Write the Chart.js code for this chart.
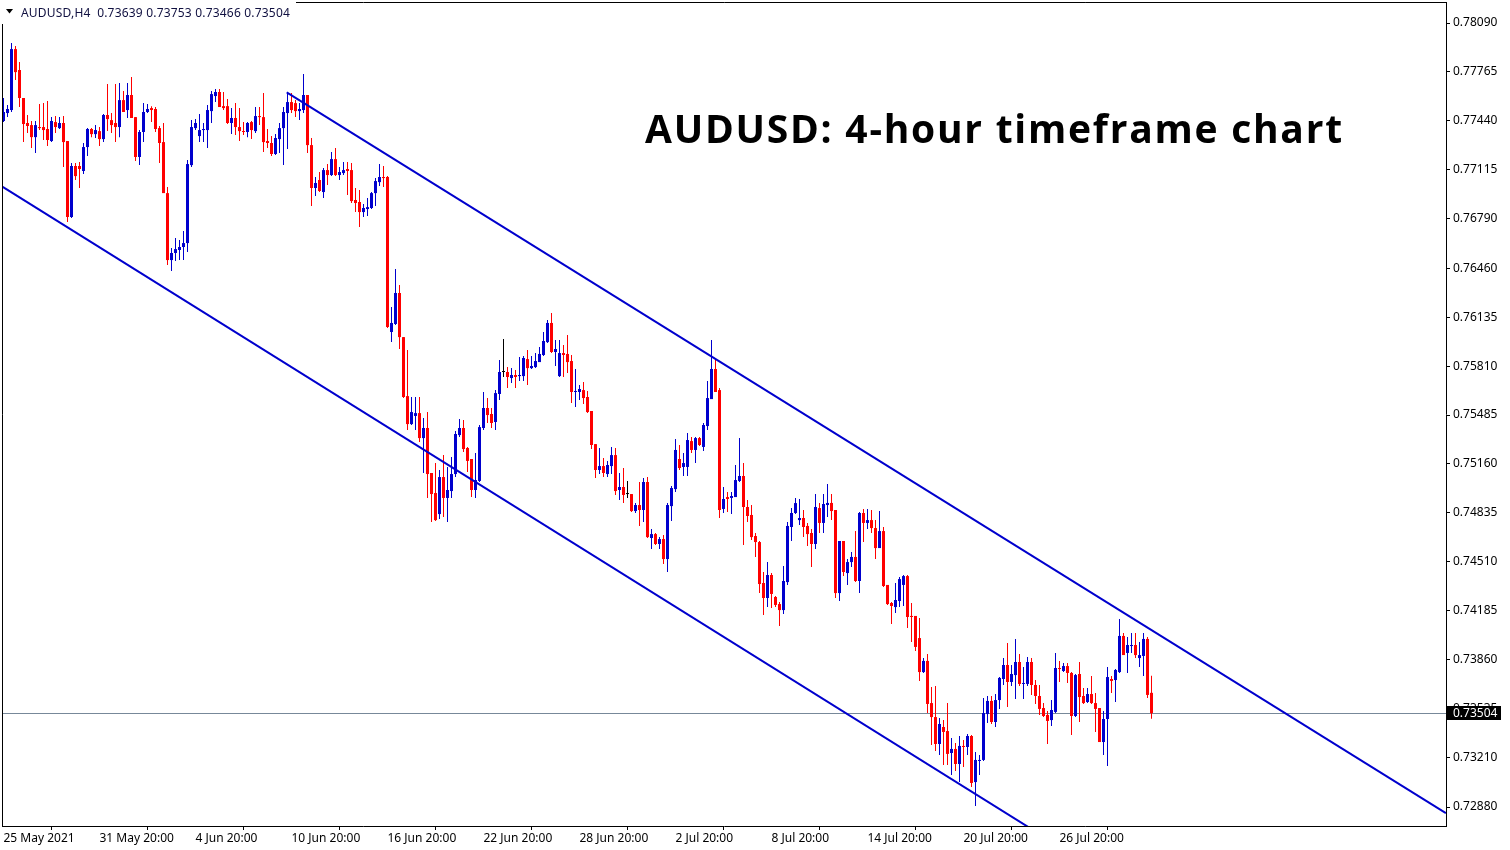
<!DOCTYPE html>
<html><head><meta charset="utf-8">
<script src="https://cdn.jsdelivr.net/npm/chart.js@4.4.1/dist/chart.umd.min.js"></script>
<style>html,body{margin:0;padding:0;background:#fff;overflow:hidden}#wrap{position:relative;width:1510px;height:850px}canvas{display:block}</style>
</head><body><div id="wrap"><canvas id="c" width="1510" height="850"></canvas></div>
<script>
const symbolText = "AUDUSD,H4";
const titleText = "AUDUSD: 4-hour timeframe chart";

const opens = [
0.77439,0.77492,0.77512,0.77917,0.77778,0.77592,0.77426,0.77412,0.77332,0.77399,
0.77399,0.77386,0.77306,0.77432,0.77392,0.77426,0.77306,0.76801,0.77140,0.77140,
0.77107,0.77266,0.77386,0.77352,0.77372,0.77319,0.77479,0.77445,0.77426,0.77399,
0.77578,0.77512,0.77612,0.77465,0.77200,0.77366,0.77499,0.77525,0.77519,0.77392,
0.77299,0.76960,0.76515,0.76562,0.76582,0.76602,0.76628,0.77146,0.77392,0.77339,
0.77379,0.77379,0.77505,0.77605,0.77632,0.77538,0.77538,0.77426,0.77459,0.77399,
0.77372,0.77366,0.77432,0.77372,0.77472,0.77465,0.77306,0.77293,0.77220,0.77319,
0.77392,0.77492,0.77565,0.77558,0.77505,0.77512,0.77612,0.77279,0.76994,0.77047,
0.76967,0.77113,0.77080,0.77186,0.77080,0.77093,0.77120,0.77113,0.76914,0.76901,
0.76834,0.76854,0.76861,0.76960,0.77033,0.77067,0.77067,0.76037,0.76090,0.76296,
0.76003,0.75611,0.75425,0.75479,0.75498,0.75332,0.75399,0.75100,0.74967,0.74827,
0.75073,0.74934,0.74980,0.75093,0.75352,0.75399,0.75266,0.75193,0.74987,0.75047,
0.75399,0.75532,0.75492,0.75439,0.75625,0.75771,0.75771,0.75731,0.75751,0.75744,
0.75744,0.75857,0.75797,0.75804,0.75837,0.75884,0.75970,0.76097,0.75904,0.75744,
0.75897,0.75891,0.75844,0.75638,0.75638,0.75651,0.75605,0.75512,0.75292,0.75120,
0.75146,0.75093,0.75146,0.75219,0.74987,0.75007,0.74960,0.74960,0.74847,0.74887,
0.74854,0.75040,0.74668,0.74694,0.74628,0.74661,0.74528,0.74880,0.74993,0.75193,
0.75140,0.75140,0.75312,0.75253,0.75332,0.75273,0.75412,0.75591,0.75791,0.75651,
0.74861,0.74940,0.74934,0.74940,0.75047,0.75080,0.74874,0.74821,0.74681,0.74641,
0.74369,0.74269,0.74422,0.74276,0.74229,0.74189,0.74375,0.74741,0.74834,0.74787,
0.74801,0.74748,0.74701,0.74628,0.74867,0.74768,0.74887,0.74901,0.74854,0.74302,
0.74648,0.74435,0.74508,0.74542,0.74382,0.74834,0.74768,0.74787,0.74734,0.74601,
0.74714,0.74356,0.74236,0.74209,0.74249,0.74356,0.74415,0.74150,0.74150,0.74003,
0.73777,0.73851,0.73571,0.73478,0.73299,0.73412,0.73385,0.73239,0.73266,0.73166,
0.73286,0.73279,0.73352,0.73046,0.73186,0.73193,0.73498,0.73585,0.73445,0.73591,
0.73731,0.73824,0.73711,0.73757,0.73844,0.73698,0.73698,0.73844,0.73691,0.73618,
0.73538,0.73492,0.73458,0.73512,0.73804,0.73784,0.73817,0.73771,0.73485,0.73764,
0.73618,0.73578,0.73631,0.73571,0.73538,0.73312,0.73465,0.73731,0.73724,0.73777,
0.74017,0.73904,0.73950,0.73957,0.73870,0.73884,0.73997,0.73639];

const highs = [
0.77592,0.77545,0.77957,0.77937,0.77831,0.77592,0.77479,0.77439,0.77439,0.77552,
0.77558,0.77572,0.77465,0.77472,0.77465,0.77472,0.77306,0.77160,0.77160,0.77166,
0.77293,0.77392,0.77392,0.77412,0.77399,0.77485,0.77685,0.77492,0.77685,0.77691,
0.77638,0.77691,0.77731,0.77465,0.77379,0.77558,0.77552,0.77538,0.77532,0.77406,
0.77426,0.77000,0.76595,0.76661,0.76648,0.76708,0.77180,0.77445,0.77452,0.77485,
0.77426,0.77545,0.77638,0.77651,0.77651,0.77632,0.77585,0.77525,0.77558,0.77525,
0.77432,0.77432,0.77439,0.77532,0.77532,0.77625,0.77386,0.77339,0.77352,0.77426,
0.77532,0.77632,0.77625,0.77578,0.77558,0.77751,0.77612,0.77326,0.77067,0.77100,
0.77126,0.77153,0.77233,0.77259,0.77133,0.77166,0.77166,0.77160,0.76994,0.76980,
0.76887,0.76927,0.76967,0.77060,0.77153,0.77140,0.77073,0.76203,0.76455,0.76349,
0.76003,0.75917,0.75605,0.75605,0.75605,0.75465,0.75505,0.75100,0.75166,0.75120,
0.75219,0.75140,0.75206,0.75379,0.75459,0.75452,0.75273,0.75193,0.75233,0.75419,
0.75638,0.75598,0.75532,0.75651,0.75851,0.75990,0.75804,0.75797,0.75784,0.75871,
0.75877,0.75917,0.75877,0.75897,0.75937,0.76037,0.76116,0.76163,0.75984,0.75984,
0.75950,0.76017,0.75884,0.75791,0.75685,0.75704,0.75645,0.75512,0.75292,0.75266,
0.75199,0.75180,0.75273,0.75266,0.75100,0.75133,0.75047,0.74960,0.74901,0.75040,
0.75067,0.75073,0.74728,0.74701,0.74674,0.74688,0.74900,0.75013,0.75326,0.75286,
0.75233,0.75366,0.75339,0.75339,0.75339,0.75432,0.75711,0.75984,0.75851,0.75665,
0.75007,0.74974,0.74974,0.75153,0.75332,0.75166,0.74920,0.74887,0.74701,0.74648,
0.74442,0.74508,0.74435,0.74282,0.74243,0.74482,0.74774,0.74867,0.74934,0.74927,
0.74854,0.74768,0.74728,0.74960,0.74900,0.74960,0.75027,0.74960,0.74854,0.74648,
0.74648,0.74528,0.74575,0.74714,0.74841,0.74861,0.74861,0.74854,0.74787,0.74847,
0.74741,0.74356,0.74243,0.74369,0.74409,0.74422,0.74422,0.74236,0.74150,0.74136,
0.73870,0.73897,0.73678,0.73684,0.73472,0.73458,0.73571,0.73339,0.73306,0.73352,
0.73326,0.73365,0.73359,0.73246,0.73226,0.73605,0.73618,0.73618,0.73631,0.73744,
0.73870,0.73970,0.73824,0.73997,0.73897,0.73811,0.73877,0.73870,0.73724,0.73691,
0.73571,0.73518,0.73591,0.73904,0.73851,0.73837,0.73837,0.73777,0.73764,0.73844,
0.73671,0.73671,0.73751,0.73638,0.73538,0.73518,0.73811,0.73751,0.73797,0.74130,
0.74037,0.74010,0.74037,0.74037,0.73977,0.74037,0.74010,0.73753];

const lows = [
0.77432,0.77465,0.77499,0.77711,0.77532,0.77299,0.77359,0.77259,0.77226,0.77379,
0.77313,0.77273,0.77299,0.77359,0.77386,0.77133,0.76768,0.76794,0.77047,0.76994,
0.77087,0.77206,0.77332,0.77326,0.77273,0.77299,0.77372,0.77359,0.77299,0.77332,
0.77499,0.77459,0.77459,0.77173,0.77146,0.77299,0.77492,0.77432,0.77366,0.77160,
0.76960,0.76482,0.76442,0.76509,0.76515,0.76515,0.76568,0.77133,0.77379,0.77299,
0.77299,0.77259,0.77426,0.77565,0.77532,0.77512,0.77419,0.77352,0.77346,0.77306,
0.77346,0.77332,0.77319,0.77359,0.77412,0.77233,0.77259,0.77206,0.77213,0.77226,
0.77146,0.77253,0.77492,0.77465,0.77445,0.77492,0.77226,0.76874,0.76940,0.76967,
0.76927,0.77014,0.77073,0.77073,0.77047,0.77080,0.76947,0.76894,0.76834,0.76734,
0.76801,0.76808,0.76854,0.76874,0.77007,0.77000,0.76063,0.75970,0.76083,0.75924,
0.75598,0.75385,0.75419,0.75385,0.75306,0.75100,0.74934,0.74774,0.74781,0.74794,
0.74807,0.74774,0.74934,0.75073,0.75339,0.75239,0.75106,0.74940,0.74934,0.75040,
0.75385,0.75432,0.75399,0.75385,0.75585,0.75738,0.75665,0.75698,0.75665,0.75711,
0.75711,0.75685,0.75791,0.75797,0.75837,0.75877,0.75964,0.75897,0.75811,0.75738,
0.75738,0.75764,0.75565,0.75538,0.75585,0.75558,0.75498,0.75259,0.75067,0.75093,
0.75073,0.75073,0.75093,0.74954,0.74920,0.74901,0.74934,0.74841,0.74834,0.74748,
0.74774,0.74668,0.74595,0.74621,0.74595,0.74495,0.74442,0.74781,0.74974,0.75120,
0.75080,0.75080,0.75233,0.75166,0.75279,0.75246,0.75385,0.75591,0.75638,0.74801,
0.74834,0.74841,0.74827,0.74940,0.75040,0.74621,0.74774,0.74655,0.74542,0.74302,
0.74156,0.74209,0.74203,0.74209,0.74083,0.74163,0.74356,0.74648,0.74827,0.74754,
0.74674,0.74615,0.74475,0.74595,0.74701,0.74701,0.74807,0.74787,0.74269,0.74249,
0.74415,0.74356,0.74475,0.74375,0.74302,0.74641,0.74728,0.74701,0.74528,0.74601,
0.74342,0.74223,0.74096,0.74169,0.74209,0.74216,0.74070,0.73977,0.73917,0.73718,
0.73771,0.73505,0.73292,0.73252,0.73226,0.73159,0.73159,0.73093,0.73120,0.73046,
0.73146,0.73226,0.73013,0.72887,0.73093,0.73186,0.73439,0.73432,0.73412,0.73532,
0.73691,0.73545,0.73684,0.73598,0.73684,0.73598,0.73684,0.73625,0.73565,0.73492,
0.73478,0.73299,0.73419,0.73505,0.73711,0.73777,0.73704,0.73359,0.73478,0.73445,
0.73565,0.73571,0.73565,0.73379,0.73312,0.73226,0.73153,0.73638,0.73578,0.73771,
0.73890,0.73771,0.73904,0.73870,0.73811,0.73751,0.73605,0.73466];

const closes = [
0.77499,0.77519,0.77917,0.77764,0.77592,0.77419,0.77406,0.77332,0.77412,0.77392,
0.77379,0.77313,0.77439,0.77399,0.77426,0.77299,0.76801,0.77140,0.77073,0.77120,
0.77266,0.77386,0.77352,0.77379,0.77319,0.77479,0.77452,0.77412,0.77399,0.77578,
0.77499,0.77612,0.77459,0.77200,0.77366,0.77499,0.77519,0.77512,0.77386,0.77293,
0.76960,0.76515,0.76562,0.76588,0.76602,0.76628,0.77153,0.77399,0.77426,0.77379,
0.77386,0.77512,0.77618,0.77632,0.77532,0.77525,0.77426,0.77459,0.77399,0.77372,
0.77366,0.77426,0.77379,0.77472,0.77465,0.77299,0.77293,0.77220,0.77326,0.77392,
0.77499,0.77565,0.77512,0.77505,0.77519,0.77612,0.77279,0.76994,0.77027,0.76974,
0.77113,0.77080,0.77186,0.77080,0.77100,0.77113,0.77107,0.76907,0.76894,0.76834,
0.76861,0.76867,0.76960,0.77040,0.77067,0.77060,0.76070,0.76097,0.76296,0.76003,
0.75605,0.75425,0.75505,0.75498,0.75332,0.75399,0.75093,0.74960,0.74787,0.75073,
0.74934,0.74987,0.75093,0.75359,0.75399,0.75259,0.75180,0.74987,0.75053,0.75405,
0.75532,0.75485,0.75432,0.75631,0.75771,0.75771,0.75738,0.75751,0.75738,0.75751,
0.75864,0.75797,0.75811,0.75844,0.75891,0.75977,0.76097,0.75904,0.75924,0.75897,
0.75884,0.75837,0.75638,0.75645,0.75658,0.75598,0.75505,0.75286,0.75120,0.75146,
0.75100,0.75153,0.75219,0.74980,0.75007,0.74954,0.74960,0.74847,0.74887,0.74854,
0.75040,0.74674,0.74694,0.74628,0.74661,0.74528,0.74887,0.75000,0.75253,0.75133,
0.75166,0.75319,0.75253,0.75332,0.75286,0.75419,0.75598,0.75791,0.75638,0.74854,
0.74927,0.74927,0.74947,0.75053,0.75080,0.74874,0.74814,0.74674,0.74641,0.74362,
0.74269,0.74422,0.74296,0.74223,0.74189,0.74382,0.74748,0.74834,0.74900,0.74801,
0.74741,0.74694,0.74628,0.74874,0.74768,0.74894,0.74901,0.74847,0.74302,0.74648,
0.74442,0.74508,0.74542,0.74382,0.74834,0.74768,0.74787,0.74734,0.74601,0.74714,
0.74349,0.74229,0.74216,0.74256,0.74395,0.74415,0.74143,0.74143,0.73944,0.73777,
0.73851,0.73565,0.73478,0.73299,0.73432,0.73379,0.73233,0.73266,0.73166,0.73286,
0.73279,0.73352,0.73040,0.73193,0.73193,0.73505,0.73585,0.73445,0.73591,0.73738,
0.73824,0.73711,0.73764,0.73844,0.73698,0.73704,0.73844,0.73691,0.73618,0.73532,
0.73485,0.73452,0.73525,0.73804,0.73797,0.73817,0.73771,0.73485,0.73757,0.73611,
0.73571,0.73631,0.73571,0.73532,0.73312,0.73465,0.73744,0.73718,0.73791,0.74017,
0.73890,0.73957,0.73957,0.73890,0.73890,0.73997,0.73625,0.73504];

const xTickBars = [0,24,48,72,96,120,144,168,192,216,240,264];
const xTickLabels = ["25 May 2021","31 May 20:00","4 Jun 20:00","10 Jun 20:00","16 Jun 20:00","22 Jun 20:00","28 Jun 20:00","2 Jul 20:00","8 Jul 20:00","14 Jul 20:00","20 Jul 20:00","26 Jul 20:00"];
const yTickValues = [0.78090,0.77765,0.77440,0.77115,0.76790,0.76460,0.76135,0.75810,0.75485,0.75160,0.74835,0.74510,0.74185,0.73860,0.73535,0.73210,0.72880];

const upperTrendBars = [70.8, 360.6];
const upperTrendPrices = [0.77630, 0.72840];
const lowerTrendBars = [-0.2, 259.1];
const lowerTrendPrices = [0.77002, 0.72699];

const currentPrice = closes[closes.length - 1];

const BLUE = '#0000CD', RED = '#FF0000', DOJI = '#000000', TREND = '#0000CD';
function candleColor(i){
  if (closes[i] > opens[i]) return BLUE;
  if (closes[i] < opens[i]) return RED;
  return DOJI;
}

const last = opens.length - 1;
const headerText = symbolText + "  " + opens[last].toFixed(5) + " " + highs[last].toFixed(5) + " " + lows[last].toFixed(5) + " " + closes[last].toFixed(5);

function fitText(ctx, text, x, y, targetWidth){
  const w = ctx.measureText(text).width;
  if ('letterSpacing' in ctx) {
    ctx.letterSpacing = ((targetWidth - w) / (text.length - 1)).toFixed(2) + 'px';
    ctx.fillText(text, x, y);
    ctx.letterSpacing = '0px';
  } else {
    ctx.save(); ctx.translate(x, y); ctx.scale(targetWidth / w, 1); ctx.fillText(text, 0, 0); ctx.restore();
  }
}

const deco = {
  id: 'deco',
  beforeDatasetsDraw(chart){
    const {ctx, chartArea: a, scales: {y}} = chart;
    const py = Math.round(y.getPixelForValue(currentPrice)) + 0.5;
    ctx.save();
    ctx.strokeStyle = '#778899'; ctx.lineWidth = 1;
    ctx.beginPath(); ctx.moveTo(a.left, py); ctx.lineTo(a.right, py); ctx.stroke();
    ctx.restore();
  },
  afterDraw(chart){
    const {ctx, chartArea: a, scales: {y}} = chart;
    ctx.save();
    ctx.strokeStyle = '#000'; ctx.lineWidth = 1;
    ctx.beginPath();
    ctx.moveTo(a.left + 0.5, a.bottom);
    ctx.lineTo(a.left + 0.5, a.top + 0.5);
    ctx.lineTo(a.right, a.top + 0.5);
    ctx.stroke();
    ctx.fillStyle = '#fff'; ctx.fillRect(0, 0, 296, 24);
    ctx.fillStyle = '#000';
    ctx.beginPath(); ctx.moveTo(6, 9); ctx.lineTo(13, 9); ctx.lineTo(9.5, 13.5); ctx.closePath(); ctx.fill();
    ctx.fillStyle = '#101040'; ctx.font = '12px "Noto Sans"';
    ctx.textAlign = 'left'; ctx.textBaseline = 'alphabetic';
    fitText(ctx, headerText, 21, 17, 269);
    ctx.fillStyle = '#000'; ctx.font = 'bold 39px "Open Sans"';
    fitText(ctx, titleText, 645, 143, 697);
    const py = Math.round(y.getPixelForValue(currentPrice));
    ctx.fillStyle = '#000'; ctx.fillRect(a.right + 1, py - 7, 54, 14);
    ctx.fillStyle = '#fff'; ctx.font = '12px "Noto Sans"'; ctx.textBaseline = 'middle';
    ctx.fillText(currentPrice.toFixed(5), a.right + 7, py + 0.5);
    ctx.restore();
  }
};

new Chart(document.getElementById('c'), {
  type: 'bar',
  data: {
    datasets: [
      { type: 'line', label: 'upper', data: upperTrendBars.map((b, i) => ({x: b, y: upperTrendPrices[i]})),
        borderColor: TREND, borderWidth: 2, pointRadius: 0, tension: 0, order: 0, clip: 0, fill: false },
      { type: 'line', label: 'lower', data: lowerTrendBars.map((b, i) => ({x: b, y: lowerTrendPrices[i]})),
        borderColor: TREND, borderWidth: 2, pointRadius: 0, tension: 0, order: 0, clip: 0, fill: false },
      { type: 'bar', label: 'body', data: opens.map((o, i) => ({x: i, y: [o, closes[i]]})),
        backgroundColor: c => candleColor(c.dataIndex), borderWidth: 0, grouped: false,
        barPercentage: 0.75, categoryPercentage: 1, maxBarThickness: 3, minBarLength: 1, order: 1 },
      { type: 'bar', label: 'wick', data: lows.map((l, i) => ({x: i, y: [l, highs[i]]})),
        backgroundColor: c => candleColor(c.dataIndex), borderWidth: 0, grouped: false,
        barPercentage: 0.25, categoryPercentage: 1, maxBarThickness: 1, minBarLength: 1, order: 2 }
    ]
  },
  options: {
    responsive: false, animation: false, devicePixelRatio: 1, events: [],
    layout: { padding: { left: 2, top: 2, right: 0, bottom: 0 } },
    plugins: { legend: { display: false }, tooltip: { enabled: false }, title: { display: false } },
    scales: {
      x: {
        type: 'linear', min: -0.375, max: 360.625, offset: false,
        grid: { display: true, drawOnChartArea: false, drawTicks: true, tickLength: 4, color: '#000', lineWidth: 1 },
        border: { display: true, color: '#000', width: 1 },
        ticks: { autoSkip: false, maxRotation: 0, minRotation: 0, align: 'start', padding: 1, color: '#000',
          font: { family: 'Noto Sans', size: 12 },
          callback: v => { const k = xTickBars.indexOf(v); return k >= 0 ? xTickLabels[k] : ''; } },
        afterBuildTicks: s => { s.ticks = xTickBars.map(v => ({value: v})); },
        afterFit: s => { s.height = 24; s.paddingLeft = 0; s.paddingRight = 0; }
      },
      y: {
        type: 'linear', position: 'right', min: 0.72754, max: 0.78230,
        grid: { display: true, drawOnChartArea: false, drawTicks: true, tickLength: 4, color: '#000', lineWidth: 1 },
        border: { display: true, color: '#000', width: 1 },
        ticks: { padding: 3, color: '#000', autoSkip: false, font: { family: 'Noto Sans', size: 12 },
          callback: v => Number(v).toFixed(5) },
        afterBuildTicks: s => { s.ticks = yTickValues.map(v => ({value: v})); },
        afterFit: s => { s.width = 64; s.paddingTop = 0; s.paddingBottom = 0; }
      }
    }
  },
  plugins: [deco]
});
</script>
</body></html>
